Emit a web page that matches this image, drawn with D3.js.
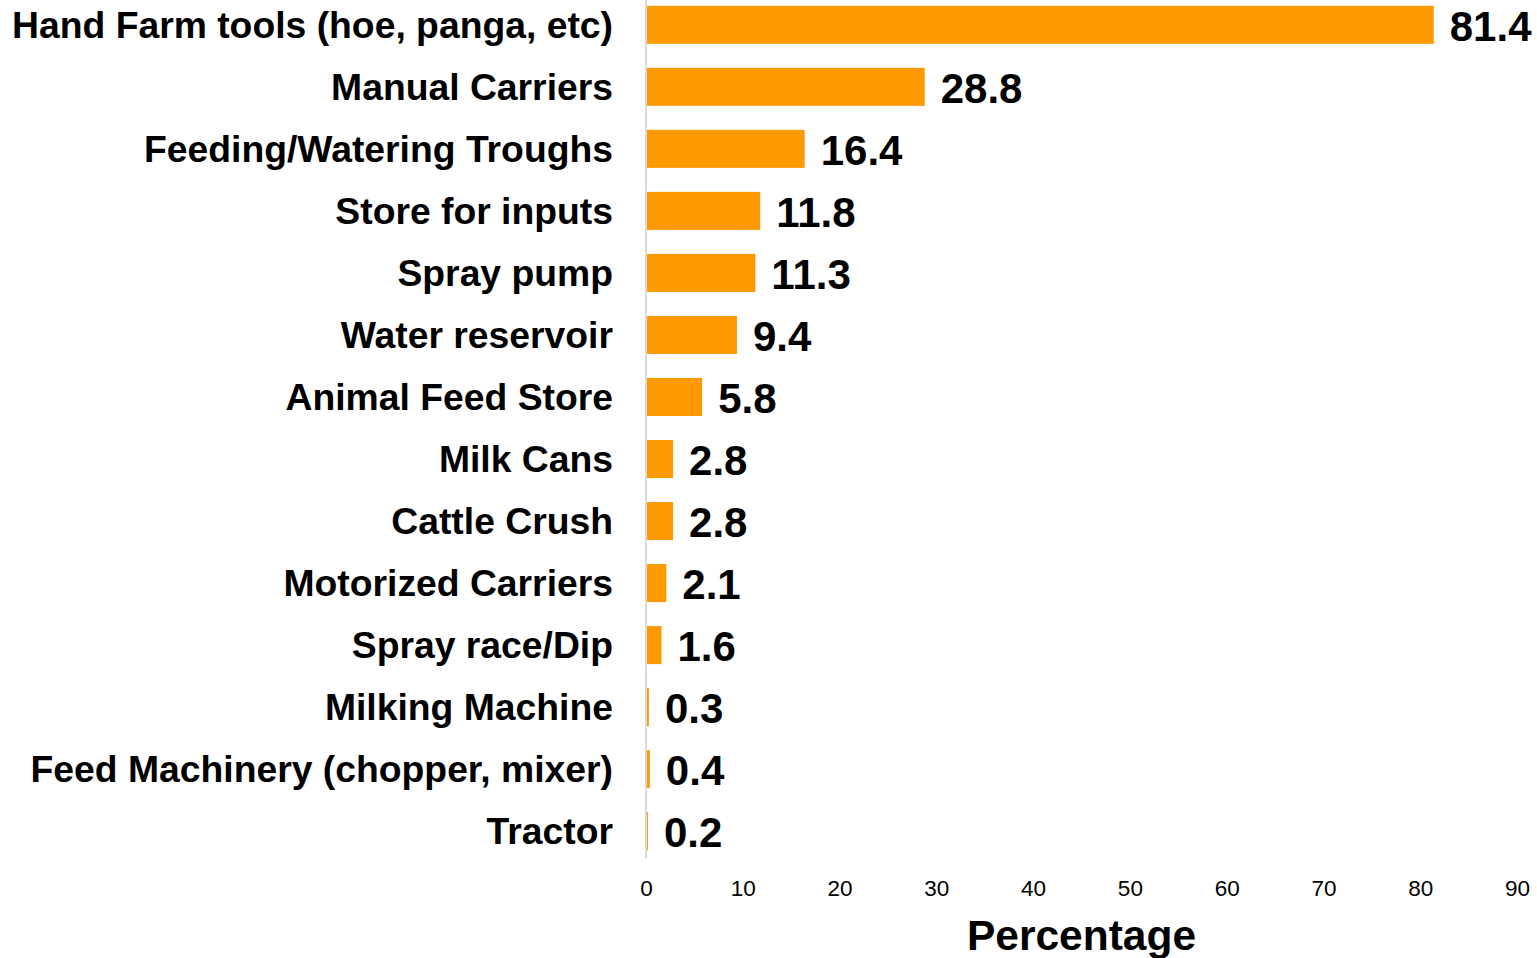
<!DOCTYPE html>
<html>
<head>
<meta charset="utf-8">
<script src="https://cdn.jsdelivr.net/npm/d3@7/dist/d3.min.js"></script>
<style>
  html, body { margin: 0; padding: 0; background: #fff; }
  svg { display: block; font-family: "Liberation Sans", Arial, sans-serif; }
</style>
</head>
<body>
<svg id="chart" width="1537" height="958"></svg>
<script>
// Farm equipment ownership, percentage of households
const categories = [
  "Hand Farm tools (hoe, panga, etc)",
  "Manual Carriers",
  "Feeding/Watering Troughs",
  "Store for inputs",
  "Spray pump",
  "Water reservoir",
  "Animal Feed Store",
  "Milk Cans",
  "Cattle Crush",
  "Motorized Carriers",
  "Spray race/Dip",
  "Milking Machine",
  "Feed Machinery (chopper, mixer)",
  "Tractor"
];
const values = [81.4, 28.8, 16.4, 11.8, 11.3, 9.4, 5.8, 2.8, 2.8, 2.1, 1.6, 0.3, 0.4, 0.2];
const xTicks = [0, 10, 20, 30, 40, 50, 60, 70, 80, 90];
const xTitle = "Percentage";

const data = categories.map((c, i) => ({ category: c, value: values[i] }));

const svg = d3.select("#chart");
const x0 = 646, x1 = 1517;

const x = d3.scaleLinear().domain([0, 90]).range([x0, x1]);
const y = d3.scaleBand()
  .domain(categories)
  .range([-6, 862])
  .paddingInner(0.387)
  .paddingOuter(0.19);

// bars
svg.append("g")
  .selectAll("rect")
  .data(data)
  .join("rect")
  .attr("x", x(0))
  .attr("y", d => y(d.category))
  .attr("width", d => x(d.value) - x(0))
  .attr("height", y.bandwidth())
  .attr("fill", "#FF9900");

// vertical axis line
svg.append("line")
  .attr("x1", x0).attr("x2", x0)
  .attr("y1", 0).attr("y2", 858)
  .attr("stroke", "#d9d9d9")
  .attr("stroke-width", 2);

// category labels
svg.append("g")
  .selectAll("text")
  .data(data)
  .join("text")
  .attr("x", 613)
  .attr("y", d => y(d.category) + y.bandwidth() / 2)
  .attr("dy", "0.35em")
  .attr("text-anchor", "end")
  .attr("font-size", 37.3)
  .attr("font-weight", "bold")
  .attr("fill", "#000")
  .text(d => d.category);

// value labels
svg.append("g")
  .selectAll("text")
  .data(data)
  .join("text")
  .attr("x", d => x(d.value) + 16)
  .attr("y", d => y(d.category) + y.bandwidth() / 2)
  .attr("dy", "0.38em")
  .attr("font-size", 42)
  .attr("font-weight", "bold")
  .attr("fill", "#000")
  .text(d => d.value.toFixed(1));

// x axis (labels only)
const xAxis = svg.append("g")
  .attr("transform", "translate(0,880)")
  .call(d3.axisBottom(x).tickValues(xTicks).tickSize(0).tickPadding(0));
xAxis.select(".domain").remove();
xAxis.selectAll("text")
  .attr("font-family", "'Liberation Sans', Arial, sans-serif")
  .attr("font-size", 22.5)
  .attr("fill", "#000")
  .attr("dy", "0.71em");

// axis title
svg.append("text")
  .attr("x", (x0 + x1) / 2)
  .attr("y", 935)
  .attr("dy", "0.35em")
  .attr("text-anchor", "middle")
  .attr("font-size", 42.5)
  .attr("font-weight", "bold")
  .attr("fill", "#000")
  .text(xTitle);
</script>
</body>
</html>
